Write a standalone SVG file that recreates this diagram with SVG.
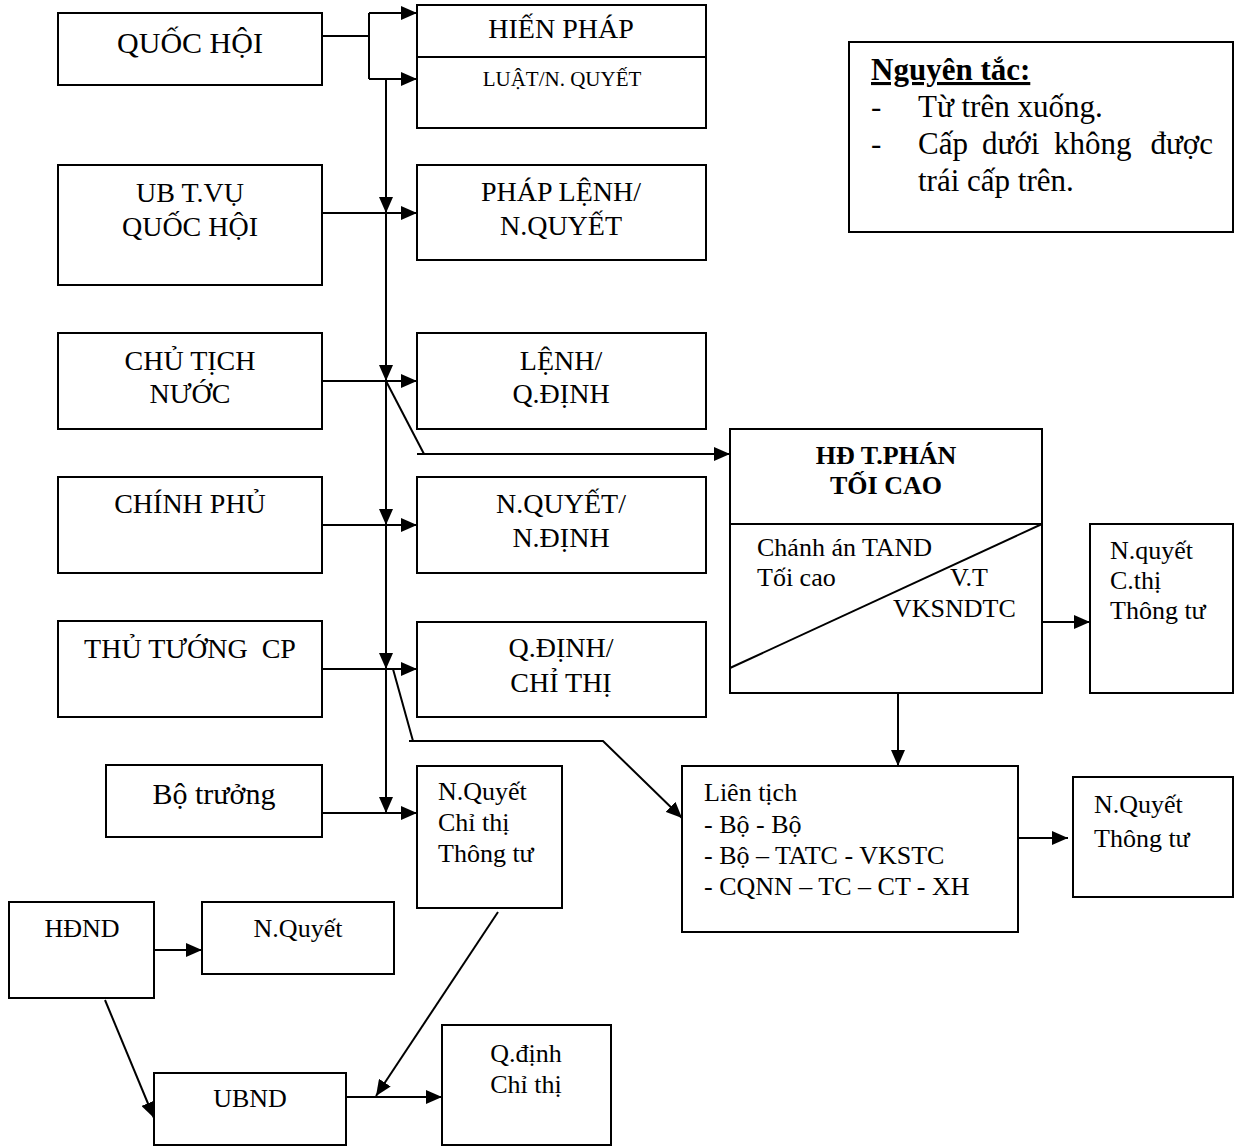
<svg xmlns="http://www.w3.org/2000/svg" width="1239" height="1146" viewBox="0 0 1239 1146">
  <defs>
    <marker id="arr" viewBox="0 0 16 14" refX="16" refY="7" markerWidth="16" markerHeight="14" markerUnits="userSpaceOnUse" orient="auto">
      <path d="M0,0 L16,7 L0,14 Z" fill="#000"/>
    </marker>
    <style>
      .box { fill: #fff; stroke: #000; stroke-width: 2; }
      .ln { fill: none; stroke: #000; stroke-width: 2; }
      .ar { fill: none; stroke: #000; stroke-width: 2; marker-end: url(#arr); }
      text { font-family: "Liberation Serif", "Times New Roman", serif; fill: #000; }
      .c { text-anchor: middle; }
      .e { text-anchor: end; }
      .t28 { font-size: 28px; }
      .t26 { font-size: 26px; }
      .t30 { font-size: 30px; }
      .t31 { font-size: 31px; }
      .t21 { font-size: 21px; }
      .b { font-weight: bold; }
    </style>
  </defs>
  <rect width="1239" height="1146" fill="#fff"/>

  <!-- Issuing bodies (left column) -->
  <g id="quoc-hoi">
    <rect class="box" x="58" y="13" width="264" height="72"/>
    <text class="c t30" x="190" y="53">QUỐC HỘI</text>
  </g>
  <g id="ubtv-quoc-hoi">
    <rect class="box" x="58" y="165" width="264" height="120"/>
    <text class="c t28" x="190" y="202">UB T.VỤ</text>
    <text class="c t28" x="190" y="236">QUỐC HỘI</text>
  </g>
  <g id="chu-tich-nuoc">
    <rect class="box" x="58" y="333" width="264" height="96"/>
    <text class="c t28" x="190" y="370">CHỦ TỊCH</text>
    <text class="c t28" x="190" y="403">NƯỚC</text>
  </g>
  <g id="chinh-phu">
    <rect class="box" x="58" y="477" width="264" height="96"/>
    <text class="c t28" x="190" y="513">CHÍNH PHỦ</text>
  </g>
  <g id="thu-tuong">
    <rect class="box" x="58" y="621" width="264" height="96"/>
    <text class="c t28" x="190" y="658" xml:space="preserve">THỦ TƯỚNG  CP</text>
  </g>
  <g id="bo-truong">
    <rect class="box" x="106" y="765" width="216" height="72"/>
    <text class="c t30" x="214" y="804">Bộ trưởng</text>
  </g>

  <!-- Documents (right column) -->
  <g id="hien-phap">
    <rect class="box" x="417" y="5" width="289" height="123"/>
    <line class="ln" x1="417" y1="57" x2="706" y2="57"/>
    <text class="c t28" x="561" y="38">HIẾN PHÁP</text>
    <text class="c t21" x="562" y="86">LUẬT/N. QUYẾT</text>
  </g>
  <g id="phap-lenh">
    <rect class="box" x="417" y="165" width="289" height="95"/>
    <text class="c t28" x="561" y="201">PHÁP LỆNH/</text>
    <text class="c t28" x="561" y="235">N.QUYẾT</text>
  </g>
  <g id="lenh">
    <rect class="box" x="417" y="333" width="289" height="96"/>
    <text class="c t28" x="561" y="370">LỆNH/</text>
    <text class="c t28" x="561" y="403">Q.ĐỊNH</text>
  </g>
  <g id="nghi-quyet-nghi-dinh">
    <rect class="box" x="417" y="477" width="289" height="96"/>
    <text class="c t28" x="561" y="513">N.QUYẾT/</text>
    <text class="c t28" x="561" y="547">N.ĐỊNH</text>
  </g>
  <g id="quyet-dinh-chi-thi">
    <rect class="box" x="417" y="622" width="289" height="95"/>
    <text class="c t28" x="561" y="657">Q.ĐỊNH/</text>
    <text class="c t28" x="561" y="692">CHỈ THỊ</text>
  </g>
  <g id="bo-van-ban">
    <rect class="box" x="417" y="766" width="145" height="142"/>
    <text class="t26" x="438" y="800">N.Quyết</text>
    <text class="t26" x="438" y="831">Chỉ thị</text>
    <text class="t26" x="438" y="862">Thông tư</text>
  </g>

  <!-- Supreme court council -->
  <g id="hd-tham-phan">
    <rect class="box" x="730" y="429" width="312" height="264"/>
    <line class="ln" x1="730" y1="524" x2="1042" y2="524"/>
    <line class="ln" x1="1042" y1="524" x2="730" y2="668"/>
    <text class="c b" x="886" y="464" style="font-size:26px">HĐ T.PHÁN</text>
    <text class="c b" x="886" y="494" style="font-size:26px">TỐI CAO</text>
    <text class="t26" x="757" y="556">Chánh án TAND</text>
    <text class="t26" x="757" y="586">Tối cao</text>
    <text class="t26" x="950" y="586">V.T</text>
    <text class="t26" x="893" y="617">VKSNDTC</text>
  </g>
  <g id="tc-van-ban">
    <rect class="box" x="1090" y="524" width="143" height="169"/>
    <text class="t26" x="1110" y="559">N.quyết</text>
    <text class="t26" x="1110" y="589">C.thị</text>
    <text class="t26" x="1110" y="619">Thông tư</text>
  </g>

  <!-- Joint documents -->
  <g id="lien-tich">
    <rect class="box" x="682" y="766" width="336" height="166"/>
    <text class="t26" x="704" y="801">Liên tịch</text>
    <text class="t26" x="704" y="833">- Bộ - Bộ</text>
    <text class="t26" x="704" y="864">- Bộ – TATC - VKSTC</text>
    <text class="t26" x="704" y="895">- CQNN – TC – CT - XH</text>
  </g>
  <g id="lien-tich-van-ban">
    <rect class="box" x="1073" y="777" width="160" height="120"/>
    <text class="t26" x="1094" y="813">N.Quyết</text>
    <text class="t26" x="1094" y="847">Thông tư</text>
  </g>

  <!-- Local authorities -->
  <g id="hdnd">
    <rect class="box" x="9" y="902" width="145" height="96"/>
    <text class="c t26" x="82" y="937">HĐND</text>
  </g>
  <g id="hdnd-nghi-quyet">
    <rect class="box" x="202" y="902" width="192" height="72"/>
    <text class="c t26" x="298" y="937">N.Quyết</text>
  </g>
  <g id="ubnd">
    <rect class="box" x="154" y="1073" width="192" height="72"/>
    <text class="c t26" x="250" y="1107">UBND</text>
  </g>
  <g id="ubnd-van-ban">
    <rect class="box" x="442" y="1025" width="169" height="120"/>
    <text class="c t26" x="526" y="1062">Q.định</text>
    <text class="c t26" x="526" y="1093">Chỉ thị</text>
  </g>

  <!-- Principles note -->
  <g id="nguyen-tac">
    <rect class="box" x="849" y="42" width="384" height="190"/>
    <text class="b t31" x="871" y="80" style="text-decoration:underline">Nguyên tắc:</text>
    <text class="t31" x="871" y="117">-</text>
    <text class="t31" x="918" y="117">Từ trên xuống.</text>
    <text class="t31" x="871" y="154">-</text>
    <text class="t31" y="154"><tspan x="918">Cấp</tspan><tspan x="982">dưới</tspan><tspan x="1054">không</tspan></text>
    <text class="t31 e" x="1213" y="154">được</text>
    <text class="t31" x="918" y="191">trái cấp trên.</text>
  </g>

  <!-- Connectors -->
  <g id="connectors">
    <!-- Quốc hội bracket -->
    <polyline class="ln" points="322,36 369,36"/>
    <polyline class="ln" points="369,13 369,79"/>
    <line class="ar" x1="369" y1="13" x2="417" y2="13"/>
    <line class="ar" x1="369" y1="79" x2="417" y2="79"/>
    <!-- Main hierarchy spine -->
    <line class="ln" x1="386" y1="79" x2="386" y2="813"/>
    <line class="ar" x1="386" y1="79" x2="386" y2="213"/>
    <line class="ar" x1="386" y1="213" x2="386" y2="381"/>
    <line class="ar" x1="386" y1="381" x2="386" y2="525"/>
    <line class="ar" x1="386" y1="525" x2="386" y2="669"/>
    <line class="ar" x1="386" y1="669" x2="386" y2="813"/>
    <!-- Body to document arrows -->
    <line class="ar" x1="322" y1="213" x2="417" y2="213"/>
    <line class="ar" x1="322" y1="381" x2="417" y2="381"/>
    <line class="ar" x1="322" y1="525" x2="417" y2="525"/>
    <line class="ar" x1="322" y1="669" x2="417" y2="669"/>
    <line class="ar" x1="322" y1="813" x2="417" y2="813"/>
    <!-- Chủ tịch nước to HĐ thẩm phán -->
    <line class="ln" x1="386" y1="381" x2="424" y2="454"/>
    <line class="ar" x1="417" y1="454" x2="730" y2="454"/>
    <!-- Thủ tướng to Liên tịch -->
    <line class="ln" x1="393" y1="669" x2="413" y2="741"/>
    <polyline class="ar" points="409,741 603,741 682,818"/>
    <!-- Court branch -->
    <line class="ar" x1="1042" y1="622" x2="1090" y2="622"/>
    <line class="ar" x1="898" y1="693" x2="898" y2="766"/>
    <line class="ar" x1="1018" y1="838" x2="1068" y2="838"/>
    <!-- Local authorities -->
    <line class="ar" x1="154" y1="950" x2="202" y2="950"/>
    <line class="ar" x1="105" y1="1000" x2="154" y2="1118"/>
    <line class="ar" x1="498" y1="912" x2="376" y2="1096"/>
    <line class="ar" x1="346" y1="1097" x2="442" y2="1097"/>
  </g>
</svg>
